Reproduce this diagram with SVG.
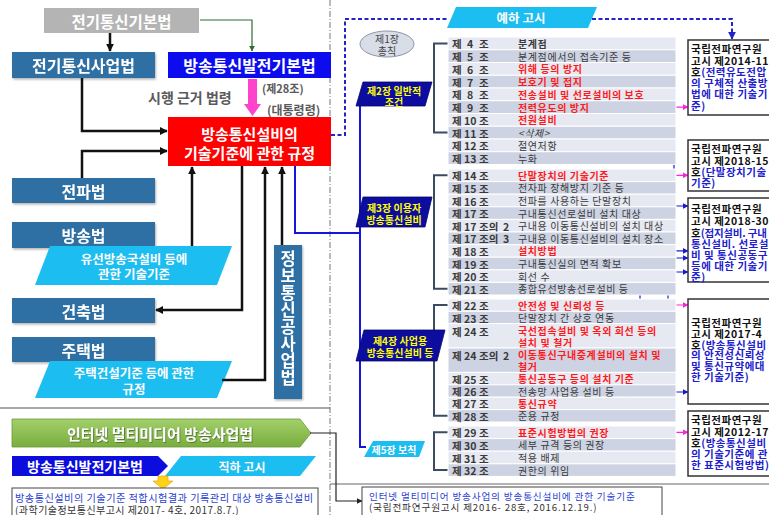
<svg xmlns="http://www.w3.org/2000/svg" width="769" height="515" viewBox="0 0 769 515">
<defs>
<style>
text{font-family:"Noto Sans CJK KR","Noto Sans",sans-serif;dominant-baseline:central}
.w{fill:#fff;font-weight:bold}
.sb{fill:#2e6fa3}
.lb{font-size:10.5px;font-weight:bold;fill:#3a3a3a}
.ds{font-size:10px;fill:#3a3a3a;letter-spacing:0.6px}
.rd{fill:#ff1a1a;font-weight:bold}
.ra{fill:#e6e9f2;stroke:#fff;stroke-width:1}
.rb{fill:#cdd3e3;stroke:#fff;stroke-width:1}
.rt{fill:#fff;stroke:#333;stroke-width:1.5}
.bt{font-size:10.5px;font-weight:bold;fill:#111;letter-spacing:0.5px}
.bl{fill:#2020cc}
.ch{fill:#0c0c9e;stroke:#07076a;stroke-width:0.8}
.ct{font-size:10px;font-weight:bold;fill:#ffff00}
.br{fill:none;stroke:#3b4b60;stroke-width:2}
.k{fill:none;stroke:#111;stroke-width:2.5}
.cb{fill:none;stroke:#1a1acc;stroke-width:1.2}
.cm{fill:none;stroke:#ff22dd;stroke-width:1.2}
.cy{fill:#1cbdf0}
.gt{fill:#5a5a5a;font-weight:bold}
</style>
<marker id="ak" viewBox="0 0 10 10" refX="9" refY="5" markerWidth="8" markerHeight="8" markerUnits="userSpaceOnUse" orient="auto"><path d="M0,0 L10,5 L0,10 z" fill="#111"/></marker>
<marker id="ab" viewBox="0 0 10 10" refX="9" refY="5" markerWidth="6" markerHeight="6" markerUnits="userSpaceOnUse" orient="auto"><path d="M0,0 L10,5 L0,10 z" fill="#1a1acc"/></marker>
<marker id="am" viewBox="0 0 10 10" refX="9" refY="5" markerWidth="6" markerHeight="6" markerUnits="userSpaceOnUse" orient="auto"><path d="M0,0 L10,5 L0,10 z" fill="#ff22dd"/></marker>
<marker id="ad" viewBox="0 0 10 10" refX="9" refY="5" markerWidth="8" markerHeight="8" markerUnits="userSpaceOnUse" orient="auto"><path d="M0,0 L10,5 L0,10 z" fill="#2323c8"/></marker>
<marker id="ag" viewBox="0 0 10 10" refX="9" refY="5" markerWidth="6" markerHeight="6" markerUnits="userSpaceOnUse" orient="auto"><path d="M0,0 L10,5 L0,10 z" fill="#2e6b2e"/></marker>
<marker id="ax" viewBox="0 0 10 10" refX="9" refY="5" markerWidth="6" markerHeight="6" markerUnits="userSpaceOnUse" orient="auto"><path d="M0,0 L10,5 L0,10 z" fill="#222"/></marker>
<marker id="db" viewBox="0 0 4 4" refX="2" refY="2" markerWidth="4" markerHeight="4" markerUnits="userSpaceOnUse"><circle cx="2" cy="2" r="2" fill="#1a1acc"/></marker>
<marker id="dm" viewBox="0 0 4 4" refX="2" refY="2" markerWidth="4" markerHeight="4" markerUnits="userSpaceOnUse"><circle cx="2" cy="2" r="2" fill="#ff22dd"/></marker>
<filter id="sh" x="-10%" y="-10%" width="130%" height="140%"><feDropShadow dx="1" dy="1.5" stdDeviation="0.8" flood-color="#000" flood-opacity="0.3"/></filter>
<filter id="ts" x="-5%" y="-20%" width="110%" height="140%"><feDropShadow dx="0.8" dy="0.8" stdDeviation="0.5" flood-color="#3a5a20" flood-opacity="0.8"/></filter>
<linearGradient id="gg" x1="0" y1="0" x2="0" y2="1"><stop offset="0" stop-color="#a2d06a"/><stop offset="1" stop-color="#79ad3e"/></linearGradient>
</defs>

<rect width="769" height="515" fill="#fff"/>

<!-- separators -->
<line x1="330" y1="0" x2="330" y2="515" stroke="#777" stroke-width="1" stroke-dasharray="6 2 1 2"/>
<line x1="0" y1="408" x2="330" y2="408" stroke="#555" stroke-width="1"/>
<line x1="330" y1="484" x2="769" y2="484" stroke="#666" stroke-width="1"/>

<!-- LEFT NODES -->
<g id="n-basic"><rect x="44" y="8" width="155" height="25" fill="#b4b4b4"/><text x="121.5" y="20.5" text-anchor="middle" class="w" font-size="15.5">전기통신기본법</text></g>
<g id="n-telecom" filter="url(#sh)"><rect x="12" y="52" width="143" height="26" class="sb"/><text x="83.5" y="65" text-anchor="middle" class="w" font-size="16">전기통신사업법</text></g>
<g id="n-bcdev"><rect x="168" y="52" width="163" height="26" fill="#0c0cee"/><text x="249.5" y="65" text-anchor="middle" class="w" font-size="16">방송통신발전기본법</text></g>
<g id="n-label1"><text x="148" y="97" class="gt" font-size="14">시행 근거 법령</text><text x="262" y="88" class="gt" font-size="11">(제28조)</text><text x="267" y="109" class="gt" font-size="12">(대통령령)</text></g>
<g id="n-rule"><rect x="168" y="117" width="163" height="49" fill="#ff0000"/><text x="249.5" y="133" text-anchor="middle" class="w" font-size="15">방송통신설비의</text><text x="249.5" y="152" text-anchor="middle" class="w" font-size="15">기술기준에 관한 규정</text></g>
<g id="n-radio" filter="url(#sh)"><rect x="12" y="178" width="143" height="25" class="sb"/><text x="83.5" y="190.5" text-anchor="middle" class="w" font-size="16">전파법</text></g>
<g id="n-broadcast" filter="url(#sh)"><rect x="12" y="222" width="143" height="26" class="sb"/><text x="83.5" y="235" text-anchor="middle" class="w" font-size="16">방송법</text></g>
<g id="n-cable"><polygon points="50,246 232,246 217,285 35,285" class="cy"/><text x="134" y="258" text-anchor="middle" class="w" font-size="12.5">유선방송국설비 등에</text><text x="134" y="273" text-anchor="middle" class="w" font-size="12.5">관한 기술기준</text></g>
<g id="n-building" filter="url(#sh)"><rect x="12" y="298" width="143" height="25" class="sb"/><text x="83.5" y="310.5" text-anchor="middle" class="w" font-size="16">건축법</text></g>
<g id="n-housing" filter="url(#sh)"><rect x="12" y="337" width="143" height="25" class="sb"/><text x="83.5" y="349.5" text-anchor="middle" class="w" font-size="16">주택법</text></g>
<g id="n-housing-rule"><polygon points="50,361 232,361 217,398 35,398" class="cy"/><text x="134" y="372" text-anchor="middle" class="w" font-size="12.5">주택건설기준 등에 관한</text><text x="134" y="388" text-anchor="middle" class="w" font-size="12.5">규정</text></g>
<g id="n-ictwork" filter="url(#sh)"><rect x="274" y="245" width="28" height="154" class="sb"/>
<text x="288" y="250" class="w" font-size="16.5" writing-mode="vertical-rl" letter-spacing="0.6" style="dominant-baseline:auto">정보통신공사업법</text></g>

<!-- BOTTOM LEFT -->
<g id="n-iptv"><polygon points="12,419 300,419 311,433 300,447 12,447" fill="url(#gg)" stroke="#6c9a3a" stroke-width="0.8"/><text x="160" y="433" text-anchor="middle" class="w" font-size="15" font-weight="normal" filter="url(#ts)">인터넷 멀티미디어 방송사업법</text></g>
<g id="n-direct"><polygon points="181,456 316,456 300,476 165,476" class="cy"/><text x="242" y="466" text-anchor="middle" class="w" font-size="12">직하 고시</text></g>
<g id="n-bcdev2"><polygon points="12,456 158,456 168,466 158,476 12,476" fill="#0c0cdd"/><text x="85" y="466" text-anchor="middle" class="w" font-size="14">방송통신발전기본법</text></g>
<g id="n-yarrow"><polygon points="158,476 168,476 168,481 173,481 163,489 153,481 158,481" fill="#ffd21a" stroke="#e0a000" stroke-width="0.6"/></g>
<g id="n-notice1"><rect x="12" y="488" width="306" height="30" fill="#fff" stroke="#444" stroke-width="1"/><text x="15" y="497" font-size="10.2" fill="#2a3fd0" letter-spacing="0.45">방송통신설비의 기술기준 적합시험결과 기록관리  대상 방송통신설비</text><text x="15" y="509" font-size="10" fill="#333" letter-spacing="0.45">(과학기술정보통신부고시 제2017- 4호, 2017.8.7.)</text></g>

<!-- RIGHT: banner, chapters -->
<g id="n-banner"><polygon points="456,7 597,7 588,28 447,28" class="cy"/><text x="521" y="17.5" text-anchor="middle" class="w" font-size="12.5">예하 고시</text></g>
<g id="n-ch1"><ellipse cx="387" cy="44" rx="27" ry="13" fill="#d8dde8" stroke="#8a96a8" stroke-width="1"/><text text-anchor="middle" font-size="10" fill="#444"><tspan x="387" y="38">제1장</tspan><tspan x="387" y="50">총칙</tspan></text></g>

<!-- connectors -->
<g id="connectors">
<path d="M110,33 V51" class="k" stroke-width="2" marker-end="url(#ak)"/>
<path d="M200,20 H252 V51" fill="none" stroke="#2e6b2e" stroke-width="1.2" marker-end="url(#ag)"/>
<polygon points="248,79 257,79 257,104 261,104 252.5,116 244,104 248,104" fill="#ff44cc"/>
<path d="M82,78 V131 H167" class="k" marker-end="url(#ak)"/>
<path d="M82,178 V151 H167" class="k" marker-end="url(#ak)"/>
<path d="M192,246 V167" class="k" marker-end="url(#ak)"/>
<path d="M242,166 V310 H156" class="k" marker-end="url(#ak)"/>
<path d="M222,380 H265 V167" class="k" marker-end="url(#ak)"/>
<path d="M282,245 V167" class="k" marker-end="url(#ak)"/>
<path d="M295,166 V233 H360" fill="none" stroke="#1515e0" stroke-width="2"/>
<path d="M360,106 V447 H366" fill="none" stroke="#1515e0" stroke-width="2"/>
<path d="M331,135 H345 V19 H448" fill="none" stroke="#2323c8" stroke-width="2" stroke-dasharray="4 2.5"/>
<path d="M592,19 H732 V39" fill="none" stroke="#2323c8" stroke-width="2" stroke-dasharray="4 2.5" marker-end="url(#ad)"/>
<path d="M310,433 H336 V501 H362" fill="none" stroke="#222" stroke-width="1.2" marker-end="url(#ax)"/>
<path d="M448,43.4 H434 V132.6 H448" class="br"/>
<path d="M448,175.3 H434 V288.7 H448" class="br"/>
<path d="M448,305 H434 V415.8 H448" class="br"/>
<path d="M448,432.3 H434 V470.1 H448" class="br"/>
<path d="M593,68.9 H674 V206 H688" class="cb" marker-start="url(#db)" marker-end="url(#ab)"/>
<path d="M592,81.6 H674" class="cb" marker-start="url(#db)" marker-end="url(#db)"/>
<path d="M656,94.4 H674" class="cb" marker-start="url(#db)" marker-end="url(#db)"/>
<path d="M563,119.9 H674" class="cb" marker-start="url(#db)" marker-end="url(#db)"/>
<path d="M602,107.1 H688" class="cm" marker-start="url(#dm)" marker-end="url(#am)"/>
<path d="M618,175.3 H688" class="cm" marker-start="url(#dm)" marker-end="url(#am)"/>
<path d="M568,250.9 H688" class="cb" marker-start="url(#db)" marker-end="url(#ab)"/>
<path d="M583,342 H640 V258 H688" class="cb" marker-start="url(#db)" marker-end="url(#ab)"/>
<path d="M548,366.4 H668" class="cb" marker-start="url(#db)" marker-end="url(#db)"/>
<path d="M645,378.6 H668 V272 H688" class="cb" marker-start="url(#db)" marker-end="url(#ab)"/>
<path d="M615,305 H688" class="cm" marker-start="url(#dm)" marker-end="url(#am)"/>
<path d="M563,403.4 H625 V392 H688" class="cb" marker-start="url(#db)" marker-end="url(#ab)"/>
<path d="M618,432.3 H688" class="cm" marker-start="url(#dm)" marker-end="url(#am)"/>
</g>

<g id="n-ch2"><polygon points="363,82 432,82 425,106 356,106" class="ch"/><text text-anchor="middle" class="ct"><tspan x="394" y="89.5">제2장 일반적</tspan><tspan x="394" y="100.5">조건</tspan></text></g>
<g id="n-ch3"><polygon points="363,197 432,197 425,227 356,227" class="ch"/><text text-anchor="middle" class="ct"><tspan x="394" y="206.5">제3장 이용자</tspan><tspan x="394" y="218.5">방송통신설비</tspan></text></g>
<g id="n-ch4"><polygon points="364,330 445,330 437,361 356,361" class="ch"/><text text-anchor="middle" class="ct"><tspan x="400" y="340">제4장 사업용</tspan><tspan x="400" y="352">방송통신설비 등</tspan></text></g>
<g id="n-ch5"><polygon points="373,441 425,441 419,457 364,457" class="cy"/><text x="394" y="449" text-anchor="middle" class="w" font-size="10">제5장 보칙</text></g>

<!-- TABLE ROWS -->
<g id="art-4"><rect x="448" y="37" width="228" height="12.75" class="ra"/><text class="lb" y="43.4"><tspan x="452">제</tspan><tspan x="467">4</tspan><tspan x="479">조</tspan></text><text x="518" y="43.4" class="ds" font-weight="bold" fill="#222">분계점</text></g>
<g id="art-5"><rect x="448" y="49.75" width="228" height="12.75" class="rb"/><text class="lb" y="56.1"><tspan x="452">제</tspan><tspan x="467">5</tspan><tspan x="479">조</tspan></text><text x="518" y="56.1" class="ds">분계점에서의 접속기준 등</text></g>
<g id="art-6"><rect x="448" y="62.5" width="228" height="12.75" class="ra"/><text class="lb" y="68.9"><tspan x="452">제</tspan><tspan x="467">6</tspan><tspan x="479">조</tspan></text><text x="518" y="68.9" class="ds rd">위해 등의 방지</text></g>
<g id="art-7"><rect x="448" y="75.25" width="228" height="12.75" class="rb"/><text class="lb" y="81.6"><tspan x="452">제</tspan><tspan x="467">7</tspan><tspan x="479">조</tspan></text><text x="518" y="81.6" class="ds rd">보호기 및 접지</text></g>
<g id="art-8"><rect x="448" y="88" width="228" height="12.75" class="ra"/><text class="lb" y="94.4"><tspan x="452">제</tspan><tspan x="467">8</tspan><tspan x="479">조</tspan></text><text x="518" y="94.4" class="ds rd">전송설비 및 선로설비의 보호</text></g>
<g id="art-9"><rect x="448" y="100.75" width="228" height="12.75" class="rb"/><text class="lb" y="107.1"><tspan x="452">제</tspan><tspan x="467">9</tspan><tspan x="479">조</tspan></text><text x="518" y="107.1" class="ds rd">전력유도의 방지</text></g>
<g id="art-10"><rect x="448" y="113.5" width="228" height="12.75" class="ra"/><text class="lb" y="119.9"><tspan x="452">제</tspan><tspan x="464">10</tspan><tspan x="479">조</tspan></text><text x="518" y="119.9" class="ds rd">전원설비</text></g>
<g id="art-11"><rect x="448" y="126.25" width="228" height="12.75" class="rb"/><text class="lb" y="132.6"><tspan x="452">제</tspan><tspan x="464">11</tspan><tspan x="479">조</tspan></text><text x="518" y="132.6" class="ds" font-style="italic">&lt;삭제&gt;</text></g>
<g id="art-12"><rect x="448" y="139" width="228" height="12.75" class="ra"/><text class="lb" y="145.4"><tspan x="452">제</tspan><tspan x="464">12</tspan><tspan x="479">조</tspan></text><text x="518" y="145.4" class="ds">절연저항</text></g>
<g id="art-13"><rect x="448" y="151.75" width="228" height="12.75" class="rb"/><text class="lb" y="158.1"><tspan x="452">제</tspan><tspan x="464">13</tspan><tspan x="479">조</tspan></text><text x="518" y="158.1" class="ds">누화</text></g>

<g id="art-14"><rect x="448" y="169" width="228" height="12.6" class="ra"/><text class="lb" y="175.3"><tspan x="452">제</tspan><tspan x="464">14</tspan><tspan x="479">조</tspan></text><text x="518" y="175.3" class="ds rd">단말장치의 기술기준</text></g>
<g id="art-15"><rect x="448" y="181.6" width="228" height="12.6" class="rb"/><text class="lb" y="187.9"><tspan x="452">제</tspan><tspan x="464">15</tspan><tspan x="479">조</tspan></text><text x="518" y="187.9" class="ds">전자파 장해방지 기준 등</text></g>
<g id="art-16"><rect x="448" y="194.2" width="228" height="12.6" class="ra"/><text class="lb" y="200.5"><tspan x="452">제</tspan><tspan x="464">16</tspan><tspan x="479">조</tspan></text><text x="518" y="200.5" class="ds">전파를 사용하는 단말장치</text></g>
<g id="art-17"><rect x="448" y="206.8" width="228" height="12.6" class="rb"/><text class="lb" y="213.1"><tspan x="452">제</tspan><tspan x="464">17</tspan><tspan x="479">조</tspan></text><text x="518" y="213.1" class="ds">구내통신선로설비 설치 대상</text></g>
<g id="art-17-2"><rect x="448" y="219.4" width="228" height="12.6" class="ra"/><text class="lb" y="225.7"><tspan x="452">제</tspan><tspan x="464">17</tspan><tspan x="479">조의</tspan><tspan x="503">2</tspan></text><text x="518" y="225.7" class="ds">구내용 이동통신설비의 설치 대상</text></g>
<g id="art-17-3"><rect x="448" y="232" width="228" height="12.6" class="rb"/><text class="lb" y="238.3"><tspan x="452">제</tspan><tspan x="464">17</tspan><tspan x="479">조의</tspan><tspan x="503">3</tspan></text><text x="518" y="238.3" class="ds">구내용 이동통신설비의 설치 장소</text></g>
<g id="art-18"><rect x="448" y="244.6" width="228" height="12.6" class="ra"/><text class="lb" y="250.9"><tspan x="452">제</tspan><tspan x="464">18</tspan><tspan x="479">조</tspan></text><text x="518" y="250.9" class="ds rd">설치방법</text></g>
<g id="art-19"><rect x="448" y="257.2" width="228" height="12.6" class="rb"/><text class="lb" y="263.5"><tspan x="452">제</tspan><tspan x="464">19</tspan><tspan x="479">조</tspan></text><text x="518" y="263.5" class="ds">구내통신실의 면적 확보</text></g>
<g id="art-20"><rect x="448" y="269.8" width="228" height="12.6" class="ra"/><text class="lb" y="276.1"><tspan x="452">제</tspan><tspan x="464">20</tspan><tspan x="479">조</tspan></text><text x="518" y="276.1" class="ds">회선 수</text></g>
<g id="art-21"><rect x="448" y="282.4" width="228" height="12.6" class="rb"/><text class="lb" y="288.7"><tspan x="452">제</tspan><tspan x="464">21</tspan><tspan x="479">조</tspan></text><text x="518" y="288.7" class="ds">종합유선방송선로설비 등</text></g>

<g id="art-22"><rect x="448" y="299" width="228" height="12.3" class="ra"/><text class="lb" y="305"><tspan x="452">제</tspan><tspan x="464">22</tspan><tspan x="479">조</tspan></text><text x="518" y="305" class="ds rd">안전성 및 신뢰성 등</text></g>
<g id="art-23"><rect x="448" y="311.3" width="228" height="12.3" class="rb"/><text class="lb" y="317.5"><tspan x="452">제</tspan><tspan x="464">23</tspan><tspan x="479">조</tspan></text><text x="518" y="317.5" class="ds">단말장치 간 상호 연동</text></g>
<g id="art-24"><rect x="448" y="323.6" width="228" height="24.4" class="ra"/><text class="lb" y="330.5"><tspan x="452">제</tspan><tspan x="464">24</tspan><tspan x="479">조</tspan></text><text class="ds rd"><tspan x="518" y="330">국선접속설비 및 옥외 회선 등의</tspan><tspan x="518" y="342">설치 및 철거</tspan></text></g>
<g id="art-24-2"><rect x="448" y="348" width="228" height="24.4" class="rb"/><text class="lb" y="354.5"><tspan x="452">제</tspan><tspan x="464">24</tspan><tspan x="479">조의</tspan><tspan x="503">2</tspan></text><text class="ds rd"><tspan x="518" y="354">이동통신구내중계설비의 설치 및</tspan><tspan x="518" y="366.4">철거</tspan></text></g>
<g id="art-25"><rect x="448" y="372.4" width="228" height="12.4" class="ra"/><text class="lb" y="378.6"><tspan x="452">제</tspan><tspan x="464">25</tspan><tspan x="479">조</tspan></text><text x="518" y="378.6" class="ds rd">통신공동구 등의 설치 기준</text></g>
<g id="art-26"><rect x="448" y="384.8" width="228" height="12.4" class="rb"/><text class="lb" y="391"><tspan x="452">제</tspan><tspan x="464">26</tspan><tspan x="479">조</tspan></text><text x="518" y="391" class="ds">전송망 사업용 설비 등</text></g>
<g id="art-27"><rect x="448" y="397.2" width="228" height="12.4" class="ra"/><text class="lb" y="403.4"><tspan x="452">제</tspan><tspan x="464">27</tspan><tspan x="479">조</tspan></text><text x="518" y="403.4" class="ds rd">통신규약</text></g>
<g id="art-28"><rect x="448" y="409.6" width="228" height="12.4" class="rb"/><text class="lb" y="415.8"><tspan x="452">제</tspan><tspan x="464">28</tspan><tspan x="479">조</tspan></text><text x="518" y="415.8" class="ds">준용 규정</text></g>

<g id="art-29"><rect x="448" y="426" width="228" height="12.6" class="ra"/><text class="lb" y="432.3"><tspan x="452">제</tspan><tspan x="464">29</tspan><tspan x="479">조</tspan></text><text x="518" y="432.3" class="ds rd">표준시험방법의 권장</text></g>
<g id="art-30"><rect x="448" y="438.6" width="228" height="12.6" class="rb"/><text class="lb" y="444.9"><tspan x="452">제</tspan><tspan x="464">30</tspan><tspan x="479">조</tspan></text><text x="518" y="444.9" class="ds">세부 규격 등의 권장</text></g>
<g id="art-31"><rect x="448" y="451.2" width="228" height="12.6" class="ra"/><text class="lb" y="457.5"><tspan x="452">제</tspan><tspan x="464">31</tspan><tspan x="479">조</tspan></text><text x="518" y="457.5" class="ds">적용 배제</text></g>
<g id="art-32"><rect x="448" y="463.8" width="228" height="12.6" class="rb"/><text class="lb" y="470.1"><tspan x="452">제</tspan><tspan x="464">32</tspan><tspan x="479">조</tspan></text><text x="518" y="470.1" class="ds">권한의 위임</text></g>

<!-- RIGHT BOXES -->
<g id="n-box1"><rect x="688" y="40" width="90" height="75" class="rt"/>
<text class="bt"><tspan x="691" y="48">국립전파연구원</tspan><tspan x="691" y="59.5">고시 제2014-11</tspan><tspan x="691" y="71">호</tspan><tspan class="bl">(전력유도전압</tspan><tspan x="691" y="82" class="bl">의 구체적 산출방</tspan><tspan x="691" y="93" class="bl">법에 대한 기술기</tspan><tspan x="691" y="104.5" class="bl">준)</tspan></text></g>
<g id="n-box2"><rect x="688" y="140" width="90" height="51" class="rt"/>
<text class="bt"><tspan x="691" y="148">국립전파연구원</tspan><tspan x="691" y="160">고시 제2018-15</tspan><tspan x="691" y="171">호</tspan><tspan class="bl">(단말장치기술</tspan><tspan x="691" y="182" class="bl">기준)</tspan></text></g>
<g id="n-box3"><rect x="688" y="198" width="90" height="84" class="rt"/>
<text class="bt"><tspan x="691" y="208">국립전파연구원</tspan><tspan x="691" y="220">고시 제2018-30</tspan><tspan x="691" y="231.5" letter-spacing="0">호</tspan><tspan class="bl" letter-spacing="-0.2">(접지설비. 구내</tspan><tspan x="691" y="242.5" class="bl">통신설비. 선로설</tspan><tspan x="691" y="253.5" class="bl">비 및 통신공동구</tspan><tspan x="691" y="264.5" class="bl">등에 대한 기술기</tspan><tspan x="691" y="276" class="bl">준)</tspan></text></g>
<g id="n-box4"><rect x="688" y="299" width="90" height="105" class="rt"/>
<text class="bt"><tspan x="691" y="322">국립전파연구원</tspan><tspan x="691" y="333">고시  제2017-4</tspan><tspan x="691" y="343.5">호</tspan><tspan class="bl">(방송통신설비</tspan><tspan x="691" y="354" class="bl">의 안전성신뢰성</tspan><tspan x="691" y="365" class="bl">및 통신규약에대</tspan><tspan x="691" y="376" class="bl">한 기술기준)</tspan></text></g>
<g id="n-box5"><rect x="688" y="411" width="90" height="65" class="rt"/>
<text class="bt"><tspan x="691" y="419">국립전파연구원</tspan><tspan x="691" y="431">고시 제2012-17</tspan><tspan x="691" y="442">호</tspan><tspan class="bl">(방송통신설비</tspan><tspan x="691" y="453" class="bl">의 기술기준에 관</tspan><tspan x="691" y="464" class="bl">한 표준시험방법)</tspan></text></g>

<g id="n-notice2"><rect x="362" y="487" width="300" height="32" fill="#fff" stroke="#444" stroke-width="1"/><text x="369" y="496" font-size="9.6" fill="#2a3fd0" letter-spacing="0.85">인터넷 멀티미디어 방송사업의 방송통신설비에 관한 기술기준</text><text x="369" y="507" font-size="9.6" fill="#333" letter-spacing="0.85">(국립전파연구원고시 제2016- 28호, 2016.12.19.)</text></g>
</svg>
